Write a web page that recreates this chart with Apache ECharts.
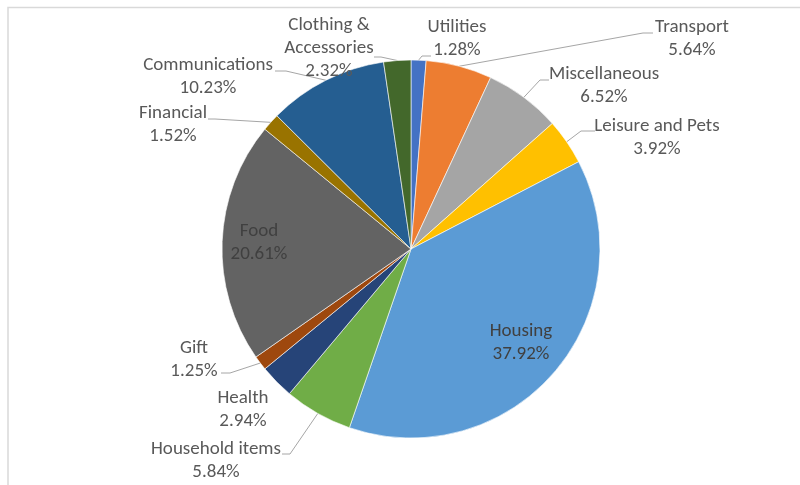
<!DOCTYPE html>
<html>
<head>
<meta charset="utf-8">
<title>Monthly spending breakdown</title>
<script src="https://cdn.jsdelivr.net/npm/echarts@6/dist/echarts.min.js"></script>
<style>
  html, body { margin: 0; padding: 0; background: #fff; }
  #chart { width: 800px; height: 485px; }
</style>
</head>
<body>
<div id="chart"></div>
<script>
// Spending categories, clockwise from 12 o'clock
const categories = [
  'Utilities', 'Transport', 'Miscellaneous', 'Leisure and Pets', 'Housing',
  'Household items', 'Health', 'Gift', 'Food', 'Financial',
  'Communications', 'Clothing & Accessories'
];
// Share of total spending, in percent
const shares = [1.28, 5.64, 6.52, 3.92, 37.92, 5.84, 2.94, 1.25, 20.61, 1.52, 10.23, 2.32];
const sliceColors = [
  '#4472C4', '#ED7D31', '#A5A5A5', '#FFC000', '#5B9BD5',
  '#70AD47', '#264478', '#9E480E', '#636363', '#997300',
  '#255E91', '#43682B'
];

// Pie geometry
const CX = 411, CY = 249, R = 189;

// Where each label block sits (centre), and where its leader line ends / bends
// end: point on the text side, elbow: bend point; null = no leader line
const labelSpots = [
  { c: [457, 39],  end: [431, 56],  elbow: [422, 56] },
  { c: [692, 39],  end: [653, 33],  elbow: [643, 33] },
  { c: [604, 86],  end: [549, 80],  elbow: [540, 80] },
  { c: [657, 138], end: [595, 131], elbow: [581, 131] },
  { c: [521, 343], end: null },
  { c: [216, 461], end: [282, 454], elbow: [290, 454] },
  { c: [243, 410], end: null },
  { c: [194, 360], end: [221, 373], elbow: [230, 373] },
  { c: [259, 243], end: null },
  { c: [173, 125], end: [208, 119], elbow: [215, 119] },
  { c: [208, 77],  end: [275, 71],  elbow: [286, 71] },
  { c: [329, 48],  end: [374, 57],  elbow: [381, 57] }
];
const insideLabels = ['Housing', 'Food'];

// Mid-angle point on the rim of each slice, from the cumulative shares
const total = shares.reduce((a, b) => a + b, 0);
const rimPoints = [];
let acc = 0;
shares.forEach(v => {
  const mid = (acc + v / 2) / total * Math.PI * 2; // clockwise from top
  rimPoints.push([CX + R * Math.sin(mid), CY - R * Math.cos(mid)]);
  acc += v;
});

const FONT = 'Carlito, Lato, "Liberation Sans", sans-serif';

const chart = echarts.init(document.getElementById('chart'), null, { renderer: 'canvas' });
chart.setOption({
  backgroundColor: '#ffffff',
  animation: false,
  graphic: [{
    type: 'rect',
    shape: { x: 8, y: 7.5, width: 820, height: 500 },
    style: { fill: 'none', stroke: '#d9d9d9', lineWidth: 1.5 },
    silent: true
  }],
  series: [{
    type: 'pie',
    center: [CX, CY],
    radius: R,
    startAngle: 90,
    clockwise: true,
    avoidLabelOverlap: false,
    itemStyle: { borderColor: '#ffffff', borderWidth: 0.6 },
    data: categories.map((name, i) => ({
      name: name,
      value: shares[i],
      itemStyle: { color: sliceColors[i] },
      label: { color: insideLabels.includes(name) ? '#404040' : '#595959' },
      labelLine: { show: labelSpots[i].end !== null }
    })),
    label: {
      show: true,
      position: 'outside',
      fontFamily: FONT,
      fontSize: 19,
      lineHeight: 23,
      align: 'center',
      formatter: p => p.name.replace('& ', '&\n') + '\n' + p.value.toFixed(2) + '%'
    },
    labelLine: {
      show: true,
      lineStyle: { color: '#a6a6a6', width: 1 }
    },
    labelLayout: params => {
      const i = params.dataIndex;
      const spot = labelSpots[i];
      const out = { x: spot.c[0], y: spot.c[1], align: 'center', verticalAlign: 'middle' };
      if (spot.end) {
        out.labelLinePoints = [rimPoints[i], spot.elbow, spot.end];
      }
      return out;
    }
  }]
});
</script>
</body>
</html>
